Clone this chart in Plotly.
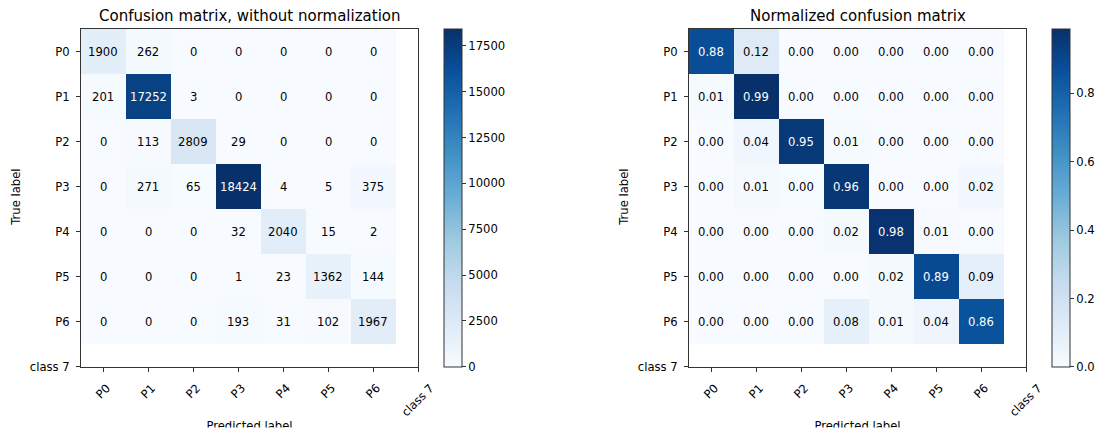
import numpy as np
import plotly.graph_objects as go

# Class names used on both axes (the last one has no samples)
tick_labels = ["P0", "P1", "P2", "P3", "P4", "P5", "P6", "class 7"]

# Confusion matrix counts: rows = true label, columns = predicted label
row_p0 = [1900, 262, 0, 0, 0, 0, 0]
row_p1 = [201, 17252, 3, 0, 0, 0, 0]
row_p2 = [0, 113, 2809, 29, 0, 0, 0]
row_p3 = [0, 271, 65, 18424, 4, 5, 375]
row_p4 = [0, 0, 0, 32, 2040, 15, 2]
row_p5 = [0, 0, 0, 1, 23, 1362, 144]
row_p6 = [0, 0, 0, 193, 31, 102, 1967]

counts_cbar_ticks = [0, 2500, 5000, 7500, 10000, 12500, 15000, 17500]
norm_cbar_ticks = [0.0, 0.2, 0.4, 0.6, 0.8]

cm = np.array([row_p0, row_p1, row_p2, row_p3, row_p4, row_p5, row_p6], dtype=float)
cm_norm = cm / cm.sum(axis=1, keepdims=True)
n = cm.shape[0]

# matplotlib "Blues"
blues = [
    [0.000, "rgb(247,251,255)"],
    [0.125, "rgb(222,235,247)"],
    [0.250, "rgb(198,219,239)"],
    [0.375, "rgb(158,202,225)"],
    [0.500, "rgb(107,174,214)"],
    [0.625, "rgb(66,146,198)"],
    [0.750, "rgb(33,113,181)"],
    [0.875, "rgb(8,81,156)"],
    [1.000, "rgb(8,48,107)"],
]

W, H = 1101, 434
FONT = "DejaVu Sans"
FS = 11.6
LINE = "#333333"


def px(x):
    return x / W


def py(y):
    return 1 - y / H


ax_top, ax_bot = 29.0, 366.7
# the figure ends just below the x-axis label, which gets cut there
fig_bottom = 427.5

panels = [
    dict(left=81.0, right=418.0, cbar=444.3, z=cm, fmt="{:.0f}",
         title="Confusion matrix, without normalization",
         ticks=counts_cbar_ticks, tickfmt="d"),
    dict(left=689.0, right=1026.0, cbar=1052.3, z=cm_norm, fmt="{:.2f}",
         title="Normalized confusion matrix",
         ticks=norm_cbar_ticks, tickfmt=".1f"),
]

fig = go.Figure()
annotations = []
cls_idx = list(range(len(tick_labels)))

for k, p in enumerate(panels):
    sfx = "" if k == 0 else str(k + 1)
    z = p["z"]
    zmax = float(z.max())
    fig.add_trace(go.Heatmap(
        z=z, x=list(range(n)), y=list(range(n)),
        xaxis="x" + sfx, yaxis="y" + sfx,
        colorscale=blues, zmin=0, zmax=zmax,
        hoverinfo="skip",
        colorbar=dict(
            x=px(p["cbar"]), xanchor="left", xpad=0,
            y=py((ax_top + ax_bot) / 2), yanchor="middle", ypad=0,
            len=(ax_bot - ax_top) / H, lenmode="fraction",
            thickness=17.5, thicknessmode="pixels",
            outlinewidth=1, outlinecolor=LINE,
            ticks="outside", ticklen=4, tickwidth=1, tickcolor=LINE,
            tickvals=p["ticks"], tickformat=p["tickfmt"],
            tickfont=dict(family=FONT, size=FS, color="black"),
        ),
    ))

    axis_common = dict(
        showgrid=False, zeroline=False, showline=True, mirror=True,
        linecolor=LINE, linewidth=1, ticks="outside", ticklen=4,
        tickwidth=1, tickcolor=LINE, tickvals=cls_idx, fixedrange=True,
    )
    fig.update_layout(**{
        "xaxis" + sfx: dict(axis_common, domain=[px(p["left"]), px(p["right"])],
                            range=[-0.5, 7], showticklabels=False,
                            anchor="y" + sfx),
        "yaxis" + sfx: dict(axis_common, domain=[py(ax_bot), py(ax_top)],
                            range=[7, -0.5], ticktext=tick_labels,
                            ticklabelstandoff=4,
                            tickfont=dict(family=FONT, size=FS, color="black"),
                            anchor="x" + sfx),
    })

    # cell values, white on dark cells
    thresh = zmax / 2
    for i in range(n):
        for j in range(n):
            v = z[i, j]
            annotations.append(dict(
                x=j, y=i, xref="x" + sfx, yref="y" + sfx,
                text=p["fmt"].format(v), showarrow=False,
                font=dict(family=FONT, size=FS,
                          color="white" if v > thresh else "black"),
            ))

    # rotated predicted-class tick labels
    for idx, lab in zip(cls_idx, tick_labels):
        annotations.append(dict(
            x=idx, xref="x" + sfx, y=py(378.5), yref="paper",
            text=lab, textangle=-45, showarrow=False,
            xanchor="center", yanchor="top",
            font=dict(family=FONT, size=FS, color="black"),
        ))

    cx = (p["left"] + p["right"]) / 2
    annotations.append(dict(
        x=px(cx), y=py(16), xref="paper", yref="paper", text=p["title"],
        showarrow=False, xanchor="center", yanchor="middle",
        font=dict(family=FONT, size=15, color="black"),
    ))
    annotations.append(dict(
        x=px(p["left"] - 65), y=py((ax_top + ax_bot) / 2), xref="paper", yref="paper",
        text="True label", textangle=-90, showarrow=False,
        xanchor="center", yanchor="middle",
        font=dict(family=FONT, size=FS, color="black"),
    ))

# x-axis titles on a hidden strip in pixel units, clipped at the figure bottom
label_x = [(p["left"] + p["right"]) / 2 for p in panels]
fig.add_trace(go.Scatter(
    x=label_x, y=[427.2, 427.2], mode="text",
    text=["Predicted label", "Predicted label"], textposition="middle center",
    textfont=dict(family=FONT, size=FS, color="black"),
    cliponaxis=True, hoverinfo="skip", showlegend=False,
    xaxis="x3", yaxis="y3",
))
fig.update_layout(
    xaxis3=dict(domain=[0, 1], range=[0, W], visible=False, fixedrange=True,
                anchor="y3"),
    yaxis3=dict(domain=[py(fig_bottom), py(405)], range=[fig_bottom, 405],
                visible=False, fixedrange=True, anchor="x3"),
)

fig.update_layout(
    width=W, height=H, autosize=False,
    margin=dict(l=0, r=0, t=0, b=0, autoexpand=False),
    paper_bgcolor="white", plot_bgcolor="white",
    annotations=annotations, showlegend=False,
)

fig.write_html("out.html", config={"displayModeBar": False})
